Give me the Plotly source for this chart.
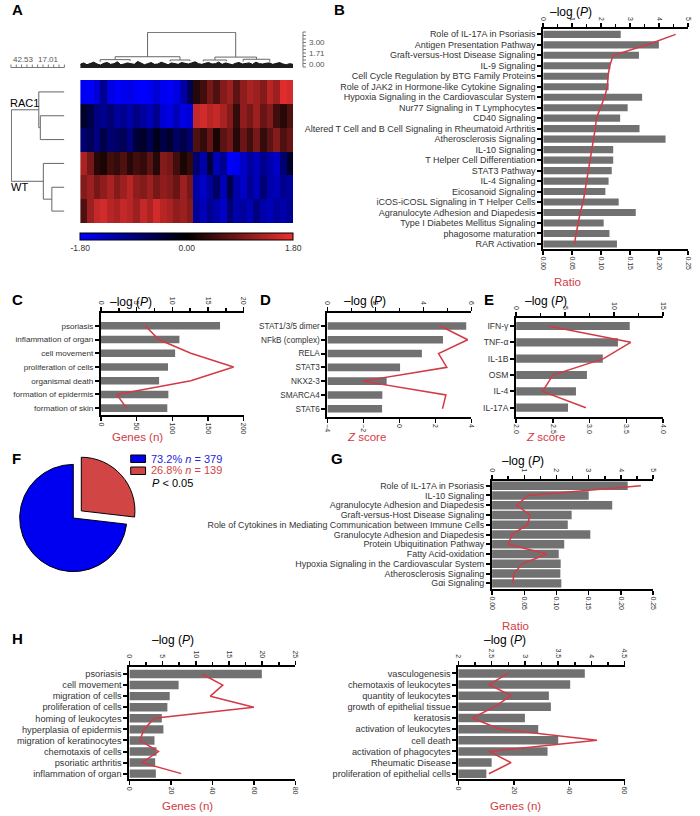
import numpy as np
import plotly.graph_objects as go

FONT = "Liberation Sans, Arial, sans-serif"
RED = "#d23a46"
BAR = "#717171"
W, H = 700, 816

# ---------------- DATA ----------------
# Panel A heatmap (6 samples x 32 gene blocks)
heat_rows = ["RAC1-1", "RAC1-2", "RAC1-3", "WT-1", "WT-2", "WT-3"]
heat_r0 = [-1.7, -1.75, -1.5, -1.0, -1.6, -1.75, -1.7, -1.6, -1.75, -1.8, -1.7, -1.5, -1.7, -1.75, -1.6, -1.2, -0.6,
           0.3, 0.5, 0.9, 0.6, 1.0, 1.2, 0.7, 1.1, 1.3, 1.2, 1.0, 1.4, 1.2, 1.7, 1.6]
heat_r1 = [-0.3, -0.5, -0.9, -1.0, -0.8, -1.1, -1.0, -1.2, -0.9, -1.1, -1.3, -1.0, -1.5, -1.6, -1.3, -1.6, -1.5,
           1.5, 1.6, 1.4, 1.5, 1.3, 1.0, 0.4, 1.1, 0.9, 1.2, 0.8, 1.0, 0.5, 0.3, 0.6]
heat_r2 = [-0.8, -0.6, -0.9, -0.5, -0.8, -0.7, -0.6, -0.9, -0.4, -0.3, -0.6, -0.2, -0.5, -0.3, -0.7, -0.5, -0.8,
           0.6, 0.4, 0.8, 0.2, 0.7, 0.9, 0.3, 0.8, 0.5, 0.9, 0.4, 0.7, 1.0, 0.6, 0.8]
heat_r3 = [1.3, 0.9, 0.3, 0.2, 0.5, 0.4, 0.6, 0.3, 0.5, 0.4, 0.7, 0.3, 1.0, 0.9, 0.5, 0.2, 0.4,
           -0.8, -1.2, -0.4, -1.3, -1.0, -1.8, -1.7, -1.4, -1.1, -1.3, -1.0, -1.2, -1.4, -0.8, -0.3]
heat_r4 = [1.0, 1.2, 0.9, 1.1, 1.3, 1.0, 1.2, 1.4, 1.1, 1.0, 1.2, 0.9, 1.1, 1.0, 0.8, 1.2, 0.9,
           -1.2, -1.4, -1.1, -0.7, -1.3, -0.5, -1.2, -1.4, -1.0, -1.3, -0.8, -1.2, -1.3, -1.0, -1.1]
heat_r5 = [0.6, 1.2, 1.5, 1.6, 1.4, 1.3, 1.5, 1.4, 1.2, 1.5, 1.3, 1.6, 1.4, 1.3, 1.1, 1.2, 1.0,
           -1.1, -1.3, -1.0, -1.2, -1.4, -0.8, -1.2, -1.1, -1.3, -0.9, -1.2, -1.3, -1.1, -1.2, -1.0]
heat_z = [heat_r0, heat_r1, heat_r2, heat_r3, heat_r4, heat_r5]

# sample dendrogram: (child a, child b, height); new node ids start at 6
left_dendro_merges = [(1, 2, 20.7), (0, 6, 22.0), (4, 5, 10.8), (3, 8, 18.1), (7, 9, 45.6)]
# gene dendrogram: 8 sub-clusters (positions in column units, base heights), merges
top_groups_pos = [2.5, 7.0, 13.0, 16.0, 18.0, 21.5, 24.0, 28.0]
top_groups_h = [0.85, 0.95, 0.9, 0.95, 0.9, 0.95, 0.9, 0.85]
top_dendro_merges = [(0, 1, 1.15), (2, 3, 1.1), (8, 9, 1.55), (4, 5, 1.1), (6, 7, 1.2), (11, 12, 1.5), (10, 13, 4.9)]
top_dendro_fuzz = [0.5, 0.7, 0.45, 0.6, 0.8, 0.55, 0.4, 0.65, 0.75, 0.5, 0.6, 0.85, 0.45, 0.55, 0.7, 0.6,
                   0.5, 0.9, 0.65, 0.45, 0.6, 0.75, 0.5, 0.55, 0.8, 0.6, 0.45, 0.7, 0.65, 0.5, 0.75, 0.6,
                   0.55, 0.7, 0.85, 0.6, 0.5, 0.65, 0.75, 0.55, 0.6, 0.8, 0.5, 0.7, 0.6, 0.45, 0.65, 0.75,
                   0.55, 0.6, 0.7, 0.5, 0.8, 0.6, 0.55, 0.65, 0.7, 0.5, 0.6, 0.75, 0.55, 0.45, 0.6, 0.5]

# Panel B
b_cats = ["Role of IL-17A in Psoriasis", "Antigen Presentation Pathway", "Graft-versus-Host Disease Signaling",
          "IL-9 Signaling", "Cell Cycle Regulation by BTG Family Proteins",
          "Role of JAK2 in Hormone-like Cytokine Signaling", "Hypoxia Signaling in the Cardiovascular System",
          "Nur77 Signaling in T Lymphocytes", "CD40 Signaling",
          "Altered T Cell and B Cell Signaling in Rheumatoid Arthritis", "Atherosclerosis Signaling",
          "IL-10 Signaling", "T Helper Cell Differentiation", "STAT3 Pathway", "IL-4 Signaling",
          "Eicosanoid Signaling", "iCOS-iCOSL Signaling in T Helper Cells", "Agranulocyte Adhesion and Diapedesis",
          "Type I Diabetes Mellitus Signaling", "phagosome maturation", "RAR Activation"]
b_logp = [2.68, 4.0, 3.31, 2.32, 2.26, 2.26, 3.42, 2.92, 2.66, 3.33, 4.23, 2.42, 2.42, 2.37, 2.26, 2.15,
          2.61, 3.2, 2.09, 2.29, 2.55]
b_ratio = [0.229, 0.18, 0.121, 0.115, 0.112, 0.111, 0.106, 0.099, 0.092, 0.090, 0.087, 0.083, 0.081, 0.078,
           0.074, 0.071, 0.069, 0.064, 0.060, 0.057, 0.054]

# Panel C
c_cats = ["psoriasis", "inflammation of organ", "cell movement", "proliferation of cells", "organismal death",
          "formation of epidermis", "formation of skin"]
c_logp = [16.7, 11.0, 10.4, 9.4, 8.15, 9.45, 9.3]
c_genes = [62, 81, 126, 186, 126, 22, 36]

# Panel D
d_cats = ["STAT1/3/5 dimer", "NFkB (complex)", "RELA", "STAT3", "NKX2-3", "SMARCA4", "STAT6"]
d_logp = [5.79, 4.82, 3.94, 3.03, 2.47, 2.29, 2.28]
d_z = [2.28, 3.8, 2.18, 2.64, -2.04, 2.59, 2.4]

# Panel E
e_cats = ["IFN-γ", "TNF-α", "IL-1B", "OSM", "IL-4", "IL-17A"]
e_logp = [11.6, 10.4, 8.85, 7.23, 6.11, 5.3]
e_z = [2.44, 3.56, 3.19, 2.5, 2.36, 2.95]

# Panel F
pie_names = ["group 2", "group 1"]
pie_n = [139, 379]

# Panel G
g_cats = ["Role of IL-17A in Psoriasis", "IL-10 Signaling", "Agranulocyte Adhesion and Diapedesis",
          "Graft-versus-Host Disease Signaling",
          "Role of Cytokines in Mediating Communication between Immune Cells",
          "Granulocyte Adhesion and Diapedesis", "Protein Ubiquitination Pathway", "Fatty Acid-oxidation",
          "Hypoxia Signaling in the Cardiovascular System", "Atherosclerosis Signaling", "Gαi Signaling"]
g_logp = [4.21, 3.0, 3.73, 2.47, 2.35, 3.05, 2.24, 2.07, 2.13, 2.12, 2.15]
g_ratio = [0.231, 0.056, 0.038, 0.059, 0.055, 0.031, 0.025, 0.085, 0.047, 0.034, 0.032]

# Panel H (left)
hl_cats = ["psoriasis", "cell movement", "migration of cells", "proliferation of cells", "homing of leukocytes",
           "hyperplasia of epidermis", "migration of keratinocytes", "chemotaxis of cells", "psoriatic arthritis",
           "inflammation of organ"]
hl_logp = [19.95, 7.41, 6.07, 5.72, 4.88, 5.12, 3.78, 4.08, 3.88, 3.98]
hl_genes = [35, 45, 39, 60, 12, 7, 5, 14, 6, 25]

# Panel H (right)
hr_cats = ["vasculogenesis", "chemotaxis of leukocytes", "quantity of leukocytes", "growth of epithelial tissue",
           "keratosis", "activation of leukocytes", "cell death", "activation of phagocytes", "Rheumatic Disease",
           "proliferation of epithelial cells"]
hr_logp = [3.9, 3.68, 3.36, 3.39, 3.0, 3.2, 3.5, 3.34, 2.5, 2.42]
hr_genes = [18, 11, 19, 13, 5, 15, 50, 11, 19, 11]


# ---------------- HELPERS ----------------
def px(x):
    return x / W


def py(y):
    return 1 - y / H


fig = go.Figure()
layout = {}
annotations = []
shapes = []


def ann(text, x, y, size, color="black", xanchor="center", yanchor="middle"):
    annotations.append(dict(text=text, x=px(x), y=py(y), xref="paper", yref="paper", showarrow=False,
                            font=dict(size=size, color=color, family=FONT), xanchor=xanchor, yanchor=yanchor))


def line_shape(x0, y0, x1, y1, color="#555", width=1):
    shapes.append(dict(type="line", xref="paper", yref="paper", x0=px(x0), y0=py(y0), x1=px(x1), y1=py(y1),
                       line=dict(color=color, width=width)))


def dendro_segments(leaf_pos, leaf_h, merges):
    pos = list(leaf_pos)
    hts = list(leaf_h)
    lp, lh = [], []
    for a, b, h in merges:
        lp += [pos[a], pos[a], pos[b], pos[b], None]
        lh += [hts[a], h, h, hts[b], None]
        pos.append((pos[a] + pos[b]) / 2)
        hts.append(h)
    return lp, lh


# ---------------- PANEL A ----------------
ncol = len(heat_z[0])
nrow = len(heat_z)
fig.add_trace(go.Heatmap(
    z=heat_z, xaxis="x", yaxis="y", zmin=-1.8, zmax=1.8, hoverinfo="skip",
    colorscale=[[0, "rgb(0,0,255)"], [0.5, "rgb(0,0,0)"], [1, "rgb(236,48,48)"]],
    colorbar=dict(orientation="h", x=px(78), xanchor="left", y=py(233), yanchor="top",
                  len=(293 - 78) / W, lenmode="fraction", thickness=7, thicknessmode="pixels",
                  outlinewidth=1, outlinecolor="black", tickvals=[-1.8, 0, 1.8],
                  ticktext=["-1.80", "0.00", "1.80"], ticks="", xpad=0, ypad=0,
                  tickfont=dict(size=8.5, color="#333", family=FONT))))
layout["xaxis"] = dict(domain=[px(78), px(293)], range=[-0.5, ncol - 0.5], visible=False, fixedrange=True)
layout["yaxis"] = dict(domain=[py(223), py(80)], range=[nrow - 0.5, -0.5], visible=False, fixedrange=True)

# left dendrogram (samples)
lp, lh = dendro_segments(list(range(nrow)), [0] * nrow, left_dendro_merges)
fig.add_trace(go.Scatter(x=lh, y=lp, mode="lines", line=dict(color="#666", width=1),
                         xaxis="x2", yaxis="y2", hoverinfo="skip"))
layout["xaxis2"] = dict(domain=[px(8), px(62)], range=[46, 0], visible=False, fixedrange=True)
layout["yaxis2"] = dict(domain=[py(223), py(80)], range=[nrow - 0.5, -0.5], visible=False, fixedrange=True)

# top dendrogram (genes)
fx = np.linspace(-0.5, ncol - 0.5, len(top_dendro_fuzz))
fig.add_trace(go.Scatter(x=fx, y=top_dendro_fuzz, mode="lines", fill="tozeroy", fillcolor="#1e1e1e",
                         line=dict(color="#111", width=1), xaxis="x3", yaxis="y3", hoverinfo="skip"))
tp, th = dendro_segments(top_groups_pos, top_groups_h, top_dendro_merges)
fig.add_trace(go.Scatter(x=tp, y=th, mode="lines", line=dict(color="#666", width=1),
                         xaxis="x3", yaxis="y3", hoverinfo="skip"))
layout["xaxis3"] = dict(domain=[px(78), px(293)], range=[-0.5, ncol - 0.5], visible=False, fixedrange=True)
layout["yaxis3"] = dict(domain=[py(68), py(32)], range=[0, 4.95], visible=False, fixedrange=True)

ann("RAC1", 5, 103, 11, xanchor="left")
ann("WT", 6, 187, 11, xanchor="left")

# rulers
ann("42.53", 8, 60, 8, color="#555", xanchor="left")
ann("17.01", 33, 60, 8, color="#555", xanchor="left")
line_shape(8, 67.5, 62, 67.5, color="#777")
for i in range(11):
    xx = 8 + i * 5.4
    line_shape(xx, 67.5, xx, 64.5, color="#777")
line_shape(303, 32, 303, 67, color="#777")
for i in range(11):
    yy = 32 + i * 3.5
    line_shape(303, yy, 306, yy, color="#777")
ann("3.00", 307, 42.7, 8, color="#555", xanchor="left")
ann("1.71", 307, 53.3, 8, color="#555", xanchor="left")
ann("0.00", 307, 64.3, 8, color="#555", xanchor="left")


# ---------------- BAR PANELS ----------------
def add_bar_panel(xt, xb, yn, cats, bars, line, x0, x1, y0, y1, yrng,
                  top_rng, top_dtick, top_minor, bot_rng, bot_dtick, bot_fmt, bar_w, cat_size):
    fig.add_trace(go.Bar(y=cats, x=bars, orientation="h", width=bar_w,
                         marker=dict(color=BAR, line=dict(width=0)),
                         xaxis=f"x{xt}", yaxis=f"y{yn}", hoverinfo="skip"))
    fig.add_trace(go.Scatter(y=cats, x=line, mode="lines", line=dict(color=RED, width=1.5),
                             xaxis=f"x{xb}", yaxis=f"y{yn}", hoverinfo="skip"))
    common = dict(ticks="outside", ticklen=4, tickwidth=1.5, tickcolor="black",
                  showline=True, linewidth=2, linecolor="black", showgrid=False,
                  zeroline=False, tickangle=90, tickfont=dict(size=7, color="#333", family=FONT),
                  fixedrange=True)
    layout[f"xaxis{xt}"] = dict(domain=[px(x0), px(x1)], anchor=f"y{yn}", side="top",
                                range=top_rng, tick0=top_rng[0], dtick=top_dtick,
                                minor=dict(tick0=top_rng[0], dtick=top_minor, ticks="outside",
                                           ticklen=3, tickwidth=1.5, tickcolor="black"),
                                **common)
    layout[f"xaxis{xb}"] = dict(anchor=f"y{yn}", overlaying=f"x{xt}", side="bottom",
                                range=bot_rng, tick0=bot_rng[0], dtick=bot_dtick, tickformat=bot_fmt,
                                **common)
    layout[f"yaxis{yn}"] = dict(domain=[py(y1), py(y0)], anchor=f"x{xt}", type="category",
                                range=yrng, showline=True, linewidth=2, linecolor="black",
                                tickmode="array", tickvals=cats, ticktext=cats,
                                ticks="outside", ticklen=4, tickwidth=2, tickcolor="black",
                                tickfont=dict(size=cat_size, color="#333", family=FONT),
                                showgrid=False, zeroline=False, fixedrange=True)


# B
add_bar_panel(4, 5, 4, b_cats, b_logp, b_ratio, 545.7, 691.7, 29.3, 249, [20.48, -0.48],
              [0, 5], 1, 0.5, [0, 0.25], 0.05, ".2f", 0.68, 9.0)
# C
add_bar_panel(6, 7, 5, c_cats, c_logp, c_genes, 99, 243, 313, 415, [6.5, -0.93],
              [0, 20], 5, 2.5, [0, 200], 50, "", 0.55, 8.1)
# D
add_bar_panel(8, 9, 6, d_cats, d_logp, d_z, 327.7, 473, 313.3, 416.7, [6.58, -0.92],
              [0, 6], 2, 1, [-4, 4], 2, "", 0.55, 8.2)
# E
add_bar_panel(10, 11, 7, e_cats, e_logp, e_z, 518.3, 666.7, 318.3, 416.7, [5.55, -0.47],
              [0, 15], 5, 2.5, [2, 4], 0.5, ".1f", 0.5, 8.6)
# G
add_bar_panel(12, 13, 8, g_cats, g_logp, g_ratio, 494, 656.7, 480.7, 589, [10.58, -0.51],
              [0, 5], 1, 0.5, [0, 0.25], 0.05, ".2f", 0.86, 8.9)
# H left
add_bar_panel(14, 15, 9, hl_cats, hl_logp, hl_genes, 127.7, 295.3, 666.7, 779.3, [9.51, -0.66],
              [0, 25], 5, 2.5, [0, 80], 20, "", 0.76, 9.2)
# H right
add_bar_panel(16, 17, 10, hr_cats, hr_logp, hr_genes, 460, 628, 666.7, 779, [9.47, -0.6],
              [2, 4.5], 0.5, 0.25, [0, 60], 20, "", 0.76, 9.2)

LOGP = "–log (<i>P</i>)"
ann(LOGP, 574, 12, 12)
ann("Ratio", 570, 282, 11.5, color=RED)
ann(LOGP, 129, 302, 12)
ann("Genes (n)", 136, 437, 11.5, color=RED)
ann(LOGP, 366, 301, 12)
ann("<i>Z</i> score", 367, 437, 11.5, color=RED)
ann(LOGP, 548, 301, 12)
ann("<i>Z</i> score", 548, 437, 11.5, color=RED)
ann(LOGP, 525, 461, 12)
ann("Ratio", 518, 626, 11.5, color=RED)
ann(LOGP, 172, 640, 12)
ann("Genes (n)", 186, 806, 11.5, color=RED)
ann(LOGP, 507, 640, 12)
ann("Genes (n)", 518, 806, 11.5, color=RED)

# ---------------- PANEL F ----------------
fig.add_trace(go.Pie(values=pie_n, labels=pie_names, sort=False, direction="clockwise", rotation=0,
                     pull=[0.2, 0], textinfo="none", hoverinfo="skip",
                     marker=dict(colors=["#d24545", "#0000f0"], line=dict(color="black", width=1)),
                     domain=dict(x=[px(6), px(136)], y=[py(583), py(453)])))
total = sum(pie_n)
pct_blue = 100 * pie_n[1] / total
pct_red = 100 * pie_n[0] / total
shapes.append(dict(type="rect", xref="paper", yref="paper", x0=px(129), x1=px(144), y0=py(462.5), y1=py(455),
                   fillcolor="#0000f0", line=dict(color="black", width=1)))
shapes.append(dict(type="rect", xref="paper", yref="paper", x0=px(129), x1=px(144), y0=py(474.5), y1=py(467),
                   fillcolor="#d24545", line=dict(color="black", width=1)))
ann(f"{pct_blue:.1f}% <i>n</i> = {pie_n[1]}", 147, 458.5, 11, color="#2424e0", xanchor="left")
ann(f"{pct_red:.1f}% <i>n</i> = {pie_n[0]}", 147, 470.5, 11, color="#d24545", xanchor="left")
ann("<i>P</i> < 0.05", 148, 483, 11, xanchor="left")

# panel letters
for letter, lx, ly in [("A", 15, 10), ("B", 340, 10), ("C", 15, 299), ("D", 265, 299), ("E", 491, 299),
                       ("F", 14, 458), ("G", 337, 458), ("H", 15, 638)]:
    ann(f"<b>{letter}</b>", lx, ly, 15)

fig.update_layout(
    width=W, height=H, margin=dict(l=0, r=0, t=0, b=0),
    paper_bgcolor="white", plot_bgcolor="white", showlegend=False,
    font=dict(family=FONT, color="black"),
    annotations=annotations, shapes=shapes, bargap=0.3, hovermode=False,
    **layout)

fig.write_html("out.html", config={"displayModeBar": False, "staticPlot": True},
               post_script="document.body.style.margin='0';document.body.style.overflow='hidden';")
